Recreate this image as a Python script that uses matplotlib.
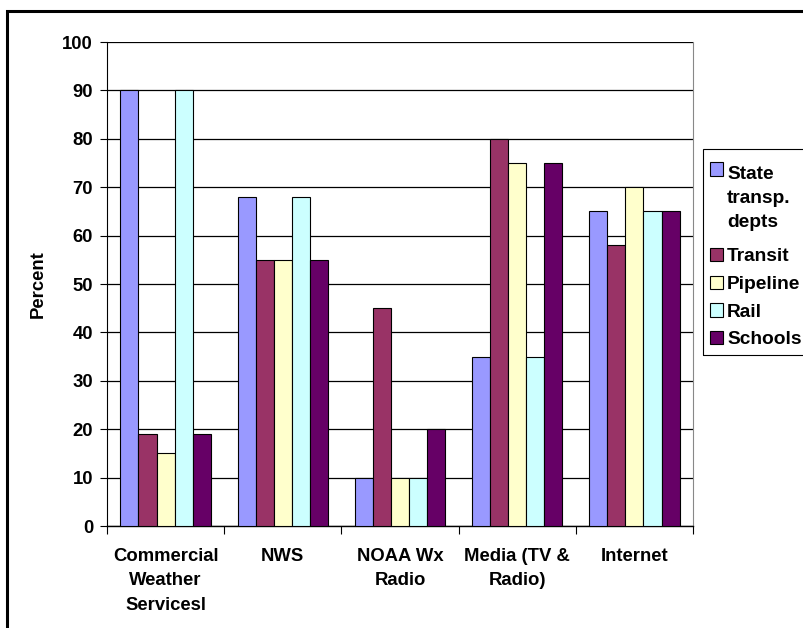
import numpy as np
import matplotlib
matplotlib.use("Agg")
import matplotlib.pyplot as plt
from matplotlib.patches import Rectangle
from matplotlib.legend_handler import HandlerPatch

plt.rcParams['font.family'] = ['Liberation Sans', 'DejaVu Sans']
plt.rcParams['font.weight'] = 'bold'

# survey data: percent of each user group relying on each source
categories = ["Commercial\nWeather\nServicesl", "NWS", "NOAA Wx\nRadio",
              "Media (TV &\nRadio)", "Internet"]
groups = ["State\ntransp.\ndepts", "Transit", "Pipeline", "Rail", "Schools"]
state = [90, 68, 10, 35, 65]
transit = [19, 55, 45, 80, 58]
pipeline = [15, 55, 10, 75, 70]
rail = [90, 68, 10, 35, 65]
schools = [19, 55, 20, 75, 65]
series = [state, transit, pipeline, rail, schools]
colors = ["#9999FF", "#993366", "#FFFFCC", "#CCFFFF", "#660066"]

FS = 13.3
LEG_FS = 13.8
LEG_LS = 1.52

fig = plt.figure(figsize=(8.04, 6.28), dpi=100)
ax = fig.add_axes([0.133, 0.1624, 0.729, 0.7706])

x = np.arange(len(categories))
w = 0.154
for i, (vals, c, name) in enumerate(zip(series, colors, groups)):
    ax.bar(x + (i - 2) * w, vals, w, color=c, edgecolor="black",
           linewidth=0.8, label=name, zorder=3)

ax.set_ylim(0, 100)
ax.set_xlim(-0.5, 4.5)
ax.set_yticks(range(0, 101, 10))
ax.yaxis.grid(True, color="black", linewidth=0.9, zorder=0)
ax.tick_params(axis="y", labelsize=FS, length=5, direction="out", width=0.8, pad=5)

ax.set_xticks(x)
ax.set_xticklabels(categories, fontsize=FS, fontweight="bold", linespacing=1.55)
ax.tick_params(axis="x", which="major", length=0, pad=16)
ax.set_xticks(np.arange(-0.5, 5, 1), minor=True)
ax.tick_params(axis="x", which="minor", length=6, direction="out", width=0.8)

ax.spines["top"].set_visible(False)
ax.spines["right"].set_color("#888888")
ax.spines["left"].set_linewidth(0.8)
ax.spines["bottom"].set_linewidth(1.0)

ax.set_ylabel("Percent", fontsize=FS, fontweight="bold", labelpad=11)


def top_aligned_patch(legend, orig_handle, xdescent, ydescent, width, height, fontsize):
    # put the swatch next to the first line of a multi-line label
    nlines = orig_handle.get_label().count("\n")
    shift = nlines * LEG_FS * LEG_LS / 2
    return Rectangle((-xdescent, -ydescent + shift), width, height)


proxies = [Rectangle((0, 0), 1, 1, facecolor=c, edgecolor="black",
                     linewidth=0.8, label=name)
           for c, name in zip(colors, groups)]


def add_legend(handles, labels, top_px):
    leg = ax.legend(handles, labels, loc="upper left",
                    bbox_to_anchor=(710 / 804, 1 - top_px / 628),
                    bbox_transform=fig.transFigure,
                    prop={"size": LEG_FS, "weight": "bold"},
                    frameon=False, handlelength=0.7, handleheight=0.7,
                    handletextpad=0.2, borderpad=0, labelspacing=0.53,
                    borderaxespad=0,
                    handler_map={p: HandlerPatch(patch_func=top_aligned_patch)
                                 for p in handles})
    for t in leg.get_texts():
        t.set_linespacing(LEG_LS)
        t.set_multialignment("left")
    return leg


# the wrapped first entry sits a little apart from the rest
leg1 = add_legend(proxies[:1], groups[:1], 166)
ax.add_artist(leg1)
add_legend(proxies[1:], groups[1:], 248)

# legend box
fig.patches.append(Rectangle((703 / 804, 1 - 355 / 628), 0.2, (355 - 149) / 628,
                             transform=fig.transFigure, fill=False,
                             edgecolor="black", linewidth=0.8))

# outer chart border
fig.patches.append(Rectangle((7 / 804, -0.1), 1.1, 1 - 11 / 628 + 0.1,
                             transform=fig.transFigure, fill=False,
                             edgecolor="black", linewidth=2.2))

fig.savefig("out.png", dpi=100)
